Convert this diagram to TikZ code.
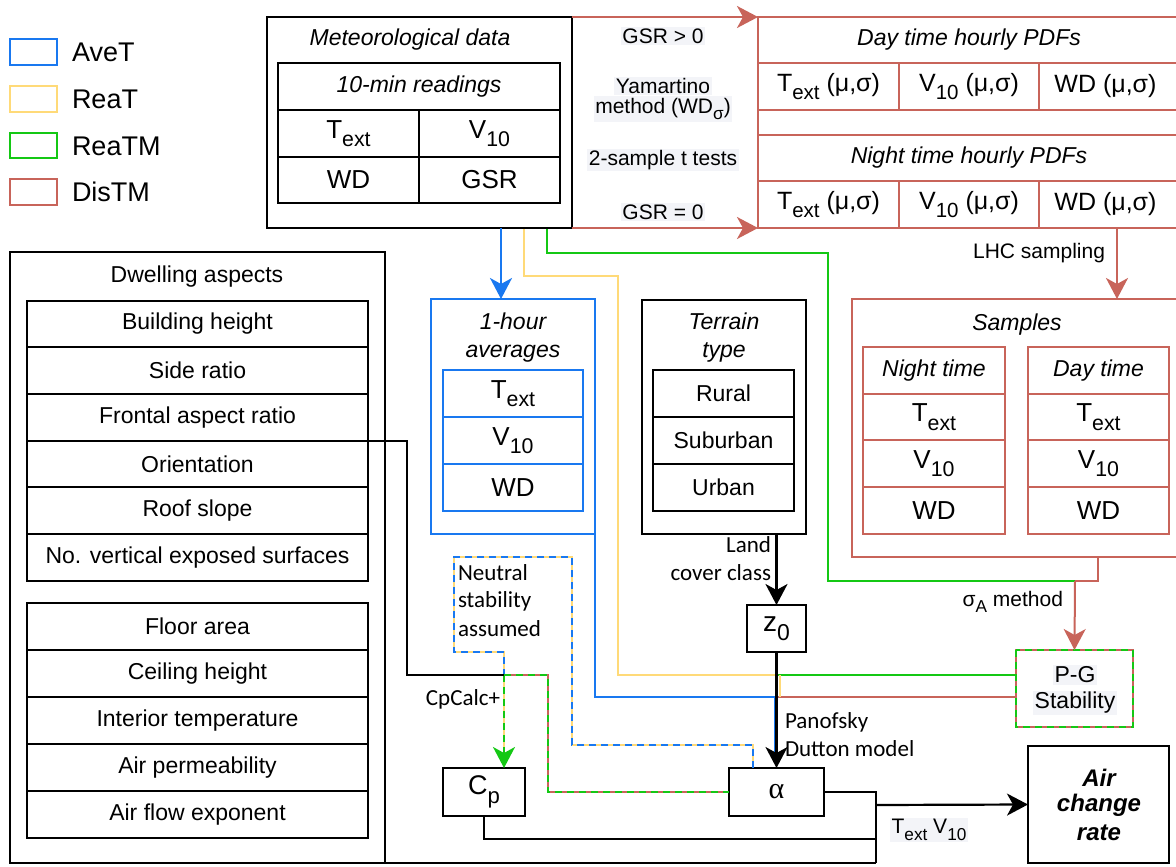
\documentclass[tikz,border=0pt]{standalone}
\usepackage{fontspec}
\setmainfont{Liberation Sans}
\newfontfamily\calib{Carlito}
\newfontfamily\lserif{Liberation Serif}
\usetikzlibrary{arrows.meta}
\definecolor{aveblue}{RGB}{25,120,240}
\definecolor{reayel}{RGB}{255,218,120}
\definecolor{reagrn}{RGB}{20,200,20}
\definecolor{disred}{RGB}{200,100,90}
\definecolor{lblbg}{RGB}{243,244,248}
\newcommand\fsz[1]{\fontsize{#1}{#1}\selectfont}
\newcommand\lo[1]{\raisebox{-0.32em}{\scalebox{0.82}{#1}}}
\newcommand\bx[7]{\node[#6,minimum width={#4-#2},minimum height={#5-#3}] (#1) at ({(#2+#4)/2},{(#3+#5)/2}) {#7};}
\tikzset{
  base/.style={inner sep=0pt, outer sep=0pt, line width=2pt},
  kbox/.style={base, draw=black},
  bbox/.style={base, draw=aveblue},
  ybox/.style={base, draw=reayel},
  gbox/.style={base, draw=reagrn},
  rbox/.style={base, draw=disred},
  txt/.style={inner sep=0pt, outer sep=0pt},
  lbl/.style={txt, font=\fsz{21}, fill=lblbg, inner sep=1.5pt},
  clbl/.style={txt, font=\calib\fsz{23}},
  ttl/.style={txt, font=\itshape\fsz{23}},
  kline/.style={draw=black, line width=2.2pt},
  bline/.style={draw=aveblue, line width=2pt},
  yline/.style={draw=reayel, line width=2pt},
  gline/.style={draw=reagrn, line width=2pt},
  rline/.style={draw=disred, line width=2pt},
  dsh/.style={dash pattern=on 7pt off 5pt},
  by/.style={draw=reayel, line width=2pt, postaction={draw=aveblue, line width=2pt, dash pattern=on 7pt off 5pt}},
  rg/.style={draw=disred, line width=2pt, postaction={draw=reagrn, line width=2pt, dash pattern=on 7pt off 5pt}},
  arr/.style={-{Stealth[length=21pt,width=22pt,inset=6pt]}},
}
\begin{document}
\begin{tikzpicture}[x=1pt,y=-1pt]
\clip (0,0) rectangle (1176,867);
\fill[white] (0,0) rectangle (1176,867);

% ---------- Legend
\bx{legA}{10}{39}{57}{65}{bbox}{}
\bx{legB}{10}{86}{57}{112}{ybox}{}
\bx{legC}{10}{133}{57}{158}{gbox}{}
\bx{legD}{10}{179}{57}{205}{rbox}{}
\node[txt,anchor=west,font=\fsz{27}] (legAt) at (72,52) {AveT};
\node[txt,anchor=west,font=\fsz{27}] (legBt) at (72,99) {ReaT};
\node[txt,anchor=west,font=\fsz{27}] (legCt) at (72,146) {ReaTM};
\node[txt,anchor=west,font=\fsz{27}] (legDt) at (72,192) {DisTM};

% ---------- Coloured connectors (drawn first)
\coordinate (yA) at (524,228);
\coordinate (gA) at (547,228);
\coordinate (bA) at (501,228);
\coordinate (jG) at (1075,581);
\draw[yline] (yA) -- (524,276) -- (618,276) -- (618,675) -- (777,675);
\draw[gline] (gA) -- (547,253) -- (828,253) -- (828,581) -- (jG);
\draw[bline] (595,534) -- (595,697) -- (777,697);
\draw[gline] (1016,675) -- (777,675);
\draw[rline] (1016,697) -- (777,697);
\draw[rline] (1098,557) -- (1098,581) -- (jG);
\draw[yline] (779.5,675) -- (779.5,697);
\draw[bline] (774.5,697) -- (774.5,757);

% ---------- Meteorological data
\bx{met}{267}{17}{572}{228}{kbox}{}
\node[ttl] (mett) at (410,40) {Meteorological data};
\bx{metr}{278}{63}{560}{110}{kbox,font=\itshape\fsz{23}}{10-min readings}
\bx{metT}{278}{110}{419}{157}{kbox,font=\fsz{26}}{T\lo{ext}}
\bx{metV}{419}{110}{560}{157}{kbox,font=\fsz{26}}{V\lo{10}}
\bx{metW}{278}{157}{419}{203}{kbox,font=\fsz{26}}{WD}
\bx{metG}{419}{157}{560}{203}{kbox,font=\fsz{26}}{GSR}

% ---------- PDFs
\bx{pdf}{758}{17}{1180}{228}{rbox}{}
\bx{dayt}{758}{17}{1180}{63}{rbox,font=\itshape\fsz{23}}{Day time hourly PDFs}
\bx{dayT}{758}{63}{899}{110}{rbox,font=\fsz{25}}{T\lo{ext} (μ,σ)}
\bx{dayV}{899}{63}{1039}{110}{rbox,font=\fsz{25}}{V\lo{10} (μ,σ)}
\bx{dayW}{1039}{63}{1180}{110}{rbox,font=\fsz{25}}{\hspace*{-8pt}WD (μ,σ)}
\bx{nigt}{758}{135}{1180}{181}{rbox,font=\itshape\fsz{23}}{Night time hourly PDFs}
\bx{nigT}{758}{181}{899}{228}{rbox,font=\fsz{25}}{T\lo{ext} (μ,σ)}
\bx{nigV}{899}{181}{1039}{228}{rbox,font=\fsz{25}}{V\lo{10} (μ,σ)}
\bx{nigW}{1039}{181}{1180}{228}{rbox,font=\fsz{25}}{\hspace*{-8pt}WD (μ,σ)}

\draw[rline,arr] (met.north east) -- (pdf.north west);
\draw[rline,arr] (met.south east) -- (pdf.south west);
\node[lbl] (gsr1) at (663,36) {GSR > 0};
\node[lbl] (yam1) at (663,86) {Yamartino};
\node[lbl] (yam2) at (663,109) {method (WD\lo{σ})};
\node[lbl] (ttest) at (663,160) {2-sample t tests};
\node[lbl] (gsr0) at (663,212) {GSR = 0};

% ---------- Samples
\bx{samp}{852}{299}{1180}{557}{rbox}{}
\node[ttl] (sampt) at (1017,325) {Samples};
\bx{sNt}{863}{347}{1005}{394}{rbox,font=\itshape\fsz{23}}{Night time}
\bx{sNT}{863}{394}{1005}{440}{rbox,font=\fsz{26}}{T\lo{ext}}
\bx{sNV}{863}{440}{1005}{487}{rbox,font=\fsz{26}}{V\lo{10}}
\bx{sNW}{863}{487}{1005}{534}{rbox,font=\fsz{26}}{WD}
\bx{sDt}{1028}{347}{1169}{394}{rbox,font=\itshape\fsz{23}}{Day time}
\bx{sDT}{1028}{394}{1169}{440}{rbox,font=\fsz{26}}{T\lo{ext}}
\bx{sDV}{1028}{440}{1169}{487}{rbox,font=\fsz{26}}{V\lo{10}}
\bx{sDW}{1028}{487}{1169}{534}{rbox,font=\fsz{26}}{WD}
\coordinate (lhc0) at (1117,228);
\draw[rline,arr] (lhc0) -- (lhc0 |- samp.north);
\node[txt,anchor=east,font=\fsz{21}] (lhc) at (1105,253) {LHC sampling};

% ---------- P-G stability
\bx{pg}{1016}{650}{1133}{727}{rbox}{}
\draw[gline,dsh] (pg.north west) rectangle (pg.south east);
\draw[rline,arr] (jG) -- (pg.north);
\node[txt,anchor=east,font=\fsz{21}] (siga) at (1063,602) {σ\lo{A} method};
\node[lbl,font=\fsz{23}] (pg1) at (1075,675) {P-G};
\node[lbl,font=\fsz{23}] (pg2) at (1075,703) {Stability};

% ---------- 1-hour averages
\bx{hour}{431}{299}{595}{534}{bbox}{}
\draw[bline,arr] (bA) -- (bA |- hour.north);
\node[ttl,anchor=base] (hourt1) at (513,329) {1-hour};
\node[ttl,anchor=base] (hourt2) at (513,357) {averages};
\bx{hT}{443}{370}{583}{417}{bbox,font=\fsz{26}}{T\lo{ext}}
\bx{hV}{443}{417}{583}{464}{bbox,font=\fsz{26}}{V\lo{10}}
\bx{hW}{443}{464}{583}{511}{bbox,font=\fsz{26}}{WD}

% ---------- Terrain type
\bx{terr}{642}{300}{806}{534}{kbox}{}
\node[ttl,anchor=base] (terrt1) at (724,329) {Terrain};
\node[ttl,anchor=base] (terrt2) at (724,357) {type};
\bx{tR}{653}{370}{794}{417}{kbox,font=\fsz{23}}{Rural}
\bx{tS}{653}{417}{794}{464}{kbox,font=\fsz{23}}{Suburban}
\bx{tU}{653}{464}{794}{511}{kbox,font=\fsz{23}}{Urban}

% ---------- z0, alpha, Cp
\bx{z0}{747}{605}{806}{652}{kbox,font=\fsz{28}}{z\lo{0}}
\bx{alpha}{729}{768}{824}{816}{kbox,font=\lserif\fsz{30}}{α}
\bx{cp}{443}{768}{525}{816}{kbox,font=\fsz{27}}{C\lo{p}}
\draw[kline,arr] (z0.north |- terr.south) -- (z0.north);
\node[clbl,anchor=east] (land1) at (771,545) {Land};
\node[clbl,anchor=east] (land2) at (771,573) {cover class};
\draw[kline,arr] (z0.south) -- (alpha.north);
\node[clbl,anchor=west] (pan1) at (785,722) {Panofsky};
\node[clbl,anchor=west] (pan2) at (785,749) {Dutton model};

% ---------- Neutral stability path
\coordinate (nA) at (753,768);
\coordinate (jN) at (504,675);
\draw[by] (nA) -- (753,745) -- (572,745) -- (572,557) -- (454,557) -- (454,652) -- (504,652) -- (jN);
\node[clbl,anchor=west] (neu1) at (458,573) {Neutral};
\node[clbl,anchor=west] (neu2) at (458,601) {stability};
\node[clbl,anchor=west] (neu3) at (458,629) {assumed};
\draw[yline] (jN) -- (504,750);
\draw[gline,dsh,arr] (jN) -- (jN |- cp.north);
\node[clbl,anchor=east] (cpc) at (500,699) {CpCalc+};
\draw[rg] (jN) -- (548,675) -- (548,792) -- (alpha.west);

% ---------- Dwelling aspects
\bx{dwell}{10}{252}{385}{863}{kbox}{}
\node[txt,font=\fsz{23}] (dwt) at (197,277) {Dwelling aspects};
\bx{d1}{27}{301}{368}{347}{kbox,font=\fsz{23}}{Building height}
\bx{d2}{27}{347}{368}{394}{kbox,font=\fsz{23}}{Side ratio}
\bx{d3}{27}{394}{368}{441}{kbox,font=\fsz{23}}{Frontal aspect ratio}
\bx{d4}{27}{441}{368}{487}{kbox,font=\fsz{23}}{Orientation}
\bx{d5}{27}{487}{368}{534}{kbox,font=\fsz{23}}{Roof slope}
\bx{d6}{27}{534}{368}{581}{kbox,font=\fsz{23}}{No. vertical exposed surfaces}
\bx{e1}{27}{603}{368}{650}{kbox,font=\fsz{23}}{Floor area}
\bx{e2}{27}{650}{368}{697}{kbox,font=\fsz{23}}{Ceiling height}
\bx{e3}{27}{697}{368}{744}{kbox,font=\fsz{23}}{Interior temperature}
\bx{e4}{27}{744}{368}{791}{kbox,font=\fsz{23}}{Air permeability}
\bx{e5}{27}{791}{368}{838}{kbox,font=\fsz{23}}{Air flow exponent}
\draw[kline] (d3.south east) -- (407,441) -- (407,675) -- (jN);

% ---------- Air change rate
\bx{acr}{1028}{746}{1169}{863}{kbox}{}
\node[txt,font=\bfseries\itshape\fsz{24}] (acr1) at (1099,778) {Air};
\node[txt,font=\bfseries\itshape\fsz{24}] (acr2) at (1099,805) {change};
\node[txt,font=\bfseries\itshape\fsz{24}] (acr3) at (1099,833) {rate};
\coordinate (jB) at (876,805);
\draw[kline] (alpha.east) -- (876,792) -- (876,863);
\draw[kline] (cp.south) -- (484,839) -- (876,839);
\draw[kline] (dwell.south east) -- (876,863);
\draw[kline,arr] (jB) -- (acr.west);
\node[lbl] (tv) at (929,830) {T\lo{ext} V\lo{10}};
\end{tikzpicture}
\end{document}
